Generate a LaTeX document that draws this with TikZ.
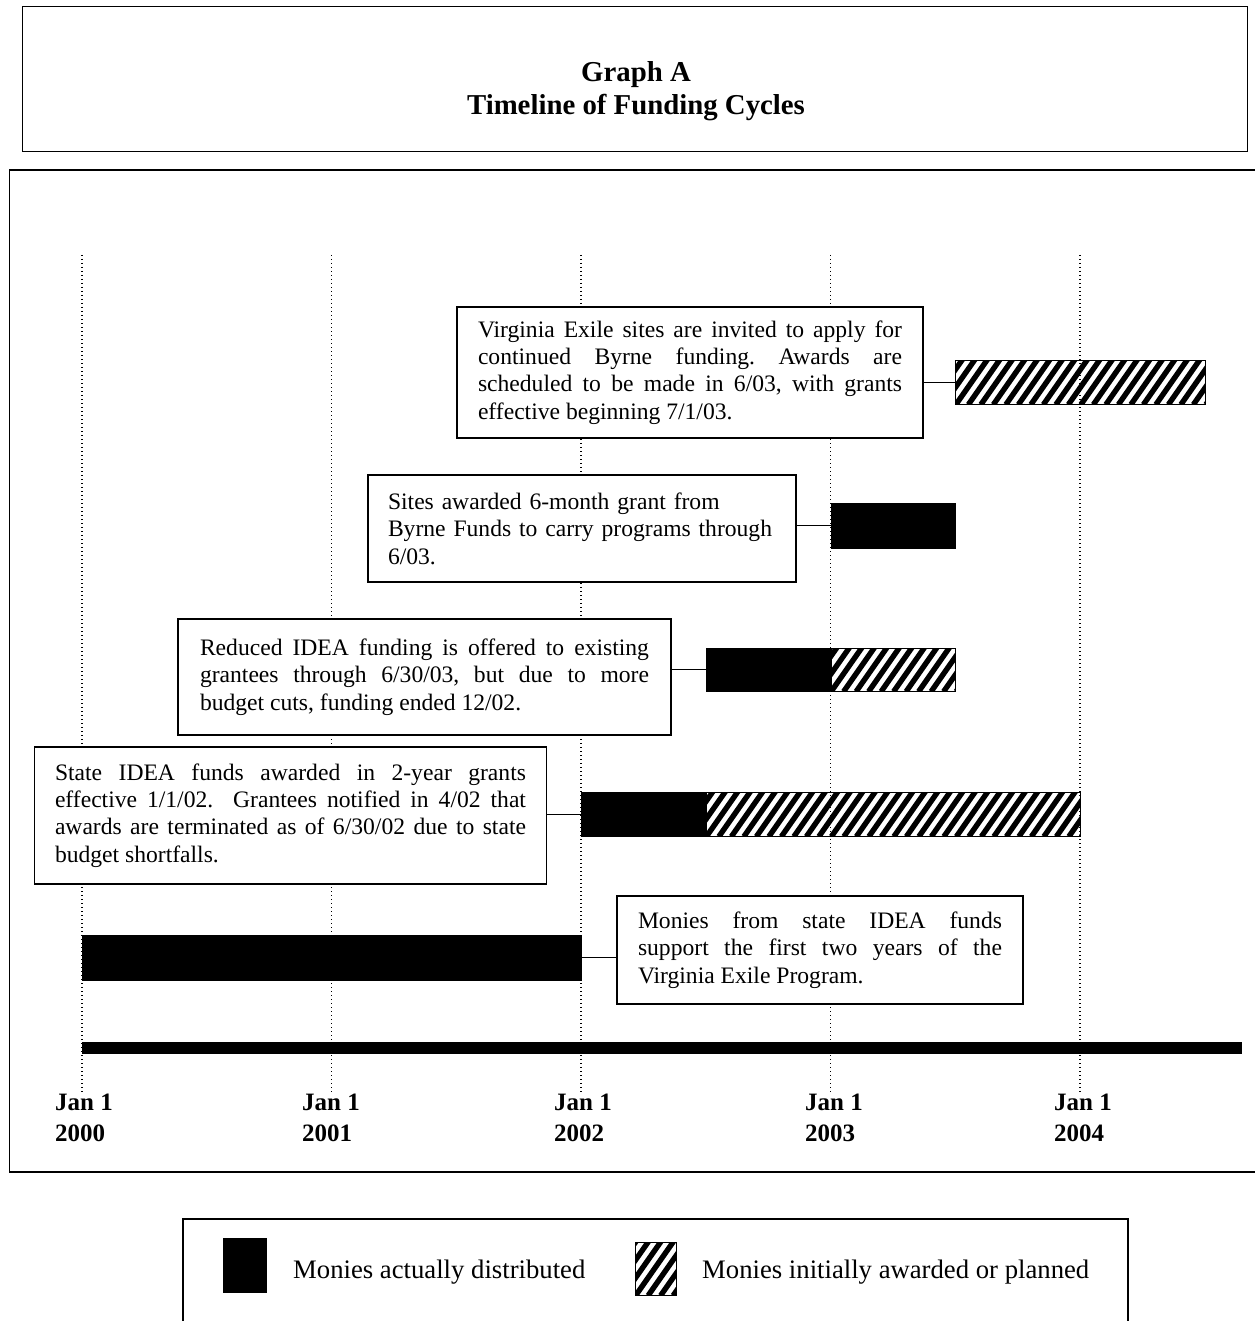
\documentclass[tikz,border=0pt]{standalone}
\usepackage{fontspec}
\setmainfont{Liberation Serif}
\newcommand\bodyfnt{\fontsize{23.6}{27.4}\selectfont\frenchspacing\tolerance=10000\hbadness=10000\hyphenpenalty=10000\exhyphenpenalty=10000\relax}
\newcommand\legfnt{\fontsize{26.7}{30}\selectfont}
\newcommand\yearfnt{\fontsize{25}{30}\selectfont\bfseries}
\newcommand\titlefnt{\fontsize{28.8}{33}\selectfont\bfseries}
\begin{document}
\begin{tikzpicture}[x=1pt,y=-1pt,
  frame/.style={draw=black,line width=1.4pt},
  note/.style={draw=black,line width=1.2pt,fill=white,font=\bodyfnt,inner ysep=0pt,anchor=center},
  solidbar/.style={fill=black,draw=black,line width=0.6pt,inner sep=0pt,anchor=north west},
  hatchbar/.style={draw=black,line width=1.2pt,fill=white,inner sep=0pt,anchor=north west,
    path picture={\foreach \k in {-6,...,33}{\draw[line width=5.4pt] ([xshift=\k*12.5pt]path picture bounding box.south west) -- ++(55:130pt);}}},
  link/.style={draw=black,line width=1.3pt},
  gridline/.style={line width=1.1pt,dash pattern=on 1.1pt off 2.9pt},
  yearlbl/.style={font=\yearfnt,anchor=base west,inner sep=0pt},
  titletext/.style={font=\titlefnt,anchor=base,inner sep=0pt},
  legtext/.style={font=\legfnt,anchor=base west,inner sep=0pt}
]
\useasboundingbox (0,0) rectangle (1254,1321);

% title box
\node[frame,minimum width=1225pt,minimum height=145pt,anchor=north west,inner sep=0pt] (titlebox) at (22,6) {};
\node[titletext] (title1) at (636,82) {Graph A};
\node[titletext] (title2) at (636,115) {Timeline of Funding Cycles};

% chart frame
\draw[frame] (1256,170) -- (9.5,170) -- (9.5,1172) -- (1256,1172);

% bars
\node[hatchbar,minimum width=249.5pt,minimum height=44pt] (bA) at (955.25,360) {};
\node[solidbar,minimum width=124.75pt,minimum height=45pt] (bB) at (830.5,503) {};
\node[solidbar,minimum width=124.75pt,minimum height=43pt] (bCs) at (705.75,648) {};
\node[hatchbar,minimum width=124.75pt,minimum height=43pt] (bCh) at (830.5,648) {};
\node[solidbar,minimum width=124.75pt,minimum height=44pt] (bDs) at (581,792) {};
\node[hatchbar,minimum width=374.25pt,minimum height=44pt] (bDh) at (705.75,792) {};
\node[solidbar,minimum width=499pt,minimum height=45pt] (bE) at (82,935) {};
\node[solidbar,minimum width=1159pt,minimum height=11pt] (axis) at (82,1042) {};

% dotted year lines
\foreach \gx in {82,331.5,581,830.5,1080}{
  \draw[gridline] (\gx,255) -- (\gx,1092);
}

% notes
\node[note,text width=424pt,inner xsep=21pt,minimum height=131pt,align=justify] (n1) at (690,372.5)
 {Virginia Exile sites are invited to apply for\linebreak continued Byrne funding. Awards are\linebreak scheduled to be made in 6/03, with grants\linebreak effective beginning 7/1/03.};
\node[note,text width=400pt,inner xsep=14pt,minimum height=107pt,align=left] (n2) at (582,528.5)
 {\hspace*{6pt}Sites awarded 6-month grant from\\\hspace*{6pt}Byrne Funds to carry programs through\\\hspace*{6pt}6/03.};
\node[note,text width=449pt,inner xsep=22pt,minimum height=116pt,align=justify] (n3) at (424.5,677)
 {Reduced IDEA funding is offered to existing\linebreak grantees through 6/30/03, but due to more\linebreak budget cuts, funding ended 12/02.};
\node[note,text width=471pt,inner xsep=20.5pt,minimum height=137pt,align=justify] (n4) at (290.5,815.5)
 {State IDEA funds awarded in 2-year grants\linebreak effective 1/1/02.\ \ Grantees notified in 4/02 that\linebreak awards are terminated as of 6/30/02 due to state\linebreak budget shortfalls.};
\node[note,text width=364pt,inner xsep=21pt,minimum height=108pt,align=justify] (n5) at (820,950)
 {Monies from state IDEA funds\linebreak support the first two years of the\linebreak Virginia Exile Program.};

% connectors
\draw[link] (n1.east |- bA.west) -- (bA.west);
\draw[link] (n2.east |- bB.west) -- (bB.west);
\draw[link] (n3.east |- bCs.west) -- (bCs.west);
\draw[link] (n4.east |- bDs.west) -- (bDs.west);
\draw[link] (bE.east) -- (bE.east -| n5.west);

% year labels
\node[yearlbl] (j2000) at (55,1110) {Jan 1};
\node[yearlbl] (y2000) at (55,1141) {2000};
\node[yearlbl] (j2001) at (302,1110) {Jan 1};
\node[yearlbl] (y2001) at (302,1141) {2001};
\node[yearlbl] (j2002) at (554,1110) {Jan 1};
\node[yearlbl] (y2002) at (554,1141) {2002};
\node[yearlbl] (j2003) at (805,1110) {Jan 1};
\node[yearlbl] (y2003) at (805,1141) {2003};
\node[yearlbl] (j2004) at (1054,1110) {Jan 1};
\node[yearlbl] (y2004) at (1054,1141) {2004};

% legend
\draw[frame] (183,1323) -- (183,1219) -- (1128,1219) -- (1128,1323);
\node[solidbar,minimum width=43pt,minimum height=54pt] (legsolid) at (223,1238) {};
\node[hatchbar,minimum width=41pt,minimum height=53pt] (leghatch) at (635,1242) {};
\node[legtext] (legtext1) at (293,1278) {Monies actually distributed};
\node[legtext] (legtext2) at (702,1278) {Monies initially awarded or planned};
\end{tikzpicture}
\end{document}
